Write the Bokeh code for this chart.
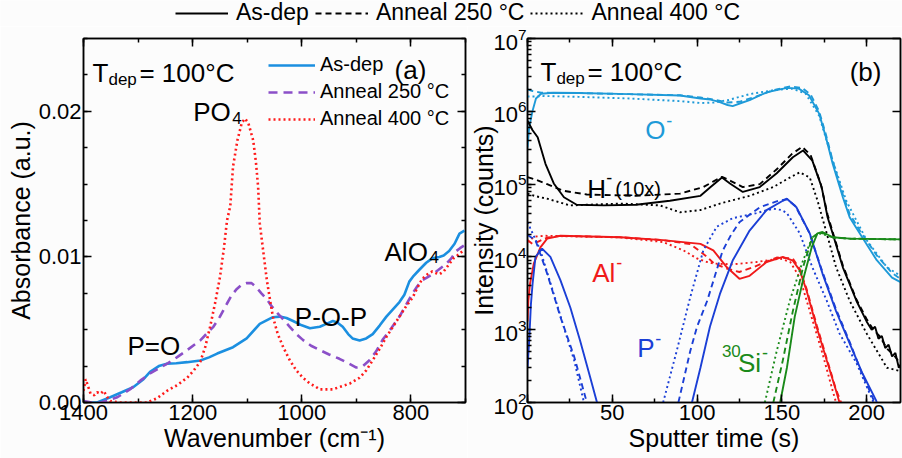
from bokeh.plotting import figure
from bokeh.models import (Range1d, Legend, LegendItem, Label, LinearAxis, LogAxis,
                          SingleIntervalTicker, LogTicker, PrintfTickFormatter, CustomJSTickFormatter)
from bokeh.layouts import column, row
from bokeh.embed import file_html
from bokeh.resources import INLINE

FONT = "Liberation Sans"
BG = "#fcfcfc"
NAN = float("nan")

# ---------------- Panel (a): FTIR ----------------
wn_asdep = [1385, 1375, 1351, 1330, 1309, 1290, 1278, 1262, 1247, 1230, 1210, 1186, 1170, 1155, 1126,
            1101, 1077, 1053, 1040, 1028, 1016, 1000, 985, 967, 955, 943, 935, 925, 915, 907, 894, 882,
            870, 857, 845, 833, 821, 812, 803, 795, 785, 772, 761, 748, 740, 730, 720, 711, 702]
abs_asdep = [0.0, 0.0, 0.00036, 0.0007, 0.00105, 0.0016, 0.0021, 0.0025, 0.00266, 0.0027, 0.00277,
             0.00289, 0.0031, 0.00336, 0.0038, 0.0044, 0.0054, 0.00586, 0.0059, 0.0058, 0.0056, 0.0053,
             0.0051, 0.0052, 0.0054, 0.0056, 0.0055, 0.0052, 0.0047, 0.0044, 0.00426, 0.0044, 0.0047,
             0.0053, 0.0059, 0.0064, 0.0069, 0.0074, 0.0083, 0.0087, 0.0091, 0.0096, 0.0099, 0.0100,
             0.0101, 0.0104, 0.0109, 0.0116, 0.0118]

wn_250 = [1400, 1385, 1368, 1338, 1315, 1296, 1278, 1259, 1245, 1229, 1210, 1186, 1175, 1162, 1150, 1137,
          1128, 1119, 1110, 1101, 1092, 1083, 1074, 1064, 1055, 1046, 1034, 1022, 1010, 998, 983, 967,
          950, 931, 915, 900, 888, 876, 864, 852, 836, 821, 809, 797, 788, 779, 770, 761, 750, 736, 726,
          717, 710, 702]
abs_250 = [0.0001, 0.0, 0.0, 0.00036, 0.0009, 0.0015, 0.0020, 0.0024, 0.0027, 0.0031, 0.0036, 0.00426,
           0.0047, 0.0052, 0.0059, 0.0068, 0.0074, 0.0078, 0.0081, 0.0082, 0.0082, 0.0079, 0.0075,
           0.0071, 0.0066, 0.0062, 0.0057, 0.0052, 0.0047, 0.0043, 0.0039, 0.0036, 0.0033, 0.0030,
           0.0027, 0.0024, 0.0025, 0.0029, 0.0035, 0.0043, 0.0051, 0.0059, 0.0067, 0.0075, 0.0080,
           0.0084, 0.0086, 0.0088, 0.0091, 0.0095, 0.0099, 0.0104, 0.0106, 0.0108]

wn_400 = [1400, 1396, 1387, 1380, 1375, 1369, 1363, 1357, 1351, 1335, 1320, 1300, 1283, 1265, 1247, 1228,
          1210, 1198, 1186, 1177, 1168, 1159, 1150, 1143, 1137, 1131, 1126, 1118, 1110, 1104, 1098, 1089,
          1084, 1080, 1077, 1070, 1064, 1058, 1053, 1044, 1034, 1022, 1010, 998, 985, 975, 967, 955, 943,
          928, 912, 903, 894, 882, 870, 857, 845, 833, 821, 809, 797, 788, 779, 770, 761, 755, 748, 740,
          730, 722, 715, 702]
abs_400 = [0.0008, 0.0016, 0.0006, 0.0005, 0.0007, 0.0006, 0.0008, 0.0004, 0.0001, 0.0, 0.0, 0.0, 0.0,
           0.0003, 0.0008, 0.0012, 0.0017, 0.0022, 0.0028, 0.0038, 0.0052, 0.0068, 0.0086, 0.0105,
           0.0125, 0.0135, 0.0162, 0.0180, 0.0192, 0.0195, 0.0192, 0.0180, 0.0165, 0.0148, 0.0123,
           0.0102, 0.0084, 0.0070, 0.0059, 0.0047, 0.0038, 0.0029, 0.0022, 0.0017, 0.0013, 0.0011,
           0.0009, 0.0009, 0.0009, 0.0011, 0.0013, 0.0015, 0.0017, 0.0022, 0.0029, 0.0037, 0.0045,
           0.0052, 0.0059, 0.0066, 0.0072, 0.0079, 0.0085, 0.0088, 0.0090, 0.0089, 0.0088, 0.0090,
           0.0095, 0.0099, 0.0101, 0.0105]

# ---------------- Panel (b): SIMS ----------------
O_as_t = [0, 1, 3, 5, 8, 15, 30, 60, 90, 102, 108, 113, 118, 121, 126, 131, 141, 153, 160, 166, 172, 176,
          180, 186, 190, 196, 206, 215, 220]
O_as_I = [3.2e5, 6e5, 1.02e6, 1.5e6, 1.74e6, 1.8e6, 1.78e6, 1.72e6, 1.65e6, 1.5e6, 1.45e6, 1.35e6,
          1.22e6, 1.18e6, 1.3e6, 1.42e6, 1.82e6, 2.1e6, 2.05e6, 1.66e6, 9.3e5, 4.4e5, 1.9e5, 6.6e4,
          3.5e4, 2.1e4, 9e3, 5.2e3, 4.5e3]
O_250_t = [0, 3, 8, 30, 60, 90, 102, 110, 118, 125, 135, 145, 155, 162, 167, 172, 176, 180, 186, 190, 196,
           206, 215, 220]
O_250_I = [2.0e6, 1.9e6, 1.8e6, 1.78e6, 1.72e6, 1.66e6, 1.55e6, 1.45e6, 1.32e6, 1.35e6, 1.6e6, 1.95e6,
           2.2e6, 2.1e6, 1.7e6, 1.0e6, 4.8e5, 2.1e5, 7.2e4, 3.9e4, 2.3e4, 1.05e4, 6e3, 5e3]
O_400_t = [0, 5, 10, 30, 60, 90, 102, 110, 118, 131, 145, 156, 164, 172, 180, 188, 200, 212, 220]
O_400_I = [1.6e6, 1.6e6, 1.62e6, 1.58e6, 1.5e6, 1.38e6, 1.3e6, 1.32e6, 1.42e6, 1.72e6, 1.95e6, 2.05e6,
           1.75e6, 8.7e5, 2.1e5, 5.9e4, 1.7e4, 7.2e3, 5.5e3]

H_as_t = [0, 3, 6, 10.6, 15.5, 21.5, 29, 45, 64, 84, 102, 108, 114.7, 119.4, 127, 137, 147, 156.5, 162.5,
          168, 173.5, 177, 180, 186, 194, 200, 203, 205, 207, 209, 211, 213, 215, 217, 219, 220]
H_as_I = [7.4e5, 5.5e5, 4.4e5, 1.9e5, 1.02e5, 6.6e4, 5.2e4, 5.1e4, 5.2e4, 5.9e4, 6.9e4, 9.1e4, 1.23e5,
          1.02e5, 7.8e4, 9.1e4, 1.41e5, 2.34e5, 2.9e5, 2.1e5, 9.1e4, 3.5e4, 2.1e4, 7.2e3, 2.5e3, 1.3e3,
          1.0e3, 1.1e3, 750, 820, 560, 620, 430, 480, 300, 330]
H_250_t = [0, 5, 11.6, 21, 35, 64, 90, 103.7, 110, 114.7, 120, 127, 137, 147, 156, 162, 167, 173, 177, 180,
           186, 194, 200, 204, 208, 212, 216, 220]
H_250_I = [1.25e5, 1.15e5, 1.0e5, 8.1e4, 7.2e4, 6.9e4, 7.4e4, 9.1e4, 1.1e5, 1.26e5, 1.1e5, 9.1e4, 1.0e5,
           1.6e5, 2.6e5, 3.25e5, 2.5e5, 1.0e5, 3.8e4, 2.2e4, 7.6e3, 2.6e3, 1.4e3, 1.0e3, 800, 550, 450, 340]
H_400_t = [0, 5, 11.6, 25, 55, 78, 90, 102, 113.5, 131, 145, 154.7, 160.6, 166.5, 171, 176.5, 182, 190,
           200, 212, 220]
H_400_I = [7.4e4, 6.8e4, 6.3e4, 5.1e4, 5.4e4, 5.1e4, 4.1e4, 4.4e4, 5.4e4, 6.9e4, 9.1e4, 1.23e5, 1.45e5,
           1.23e5, 6.0e4, 2.1e4, 7.2e3, 2.5e3, 890, 300, 270]

Al_as_t = [0, 0.5, 1.5, 3.7, 7.6, 11.6, 19.4, 55, 80, 102, 109.6, 117.6, 125, 131, 141, 150.6, 156.5,
           160.6, 164.5, 170.6, 176.5, 182, 184]
Al_as_I = [1.3e3, 2.5e3, 4.3e3, 8.1e3, 1.35e4, 1.78e4, 1.95e4, 1.86e4, 1.7e4, 1.51e4, 1.23e4, 7.2e3,
           5.0e3, 5.5e3, 8.5e3, 1.0e4, 8.9e3, 6.5e3, 3.5e3, 1.07e3, 380, 145, 100]
Al_250_t = [0, 3, 7, 12, 20, 55, 80, 96, 106, 110, 117.6, 125, 133, 147, 156.5, 160.6, 164.5, 170.6,
            176.5, 182, 185]
Al_250_I = [1.7e4, 1.5e4, 1.65e4, 1.85e4, 1.95e4, 1.86e4, 1.7e4, 1.5e4, 1.0e4, 8.1e3, 6.9e3, 6.2e3,
            7.2e3, 9.8e3, 9.5e3, 6.8e3, 3.7e3, 1.15e3, 400, 150, 100]
Al_400_t = [0, 4, 10, 55, 80, 92, 100, 106, 110, 121, 135, 149, 155, 160.6, 166.5, 174, 180, 182]
Al_400_I = [1.6e4, 1.9e4, 1.95e4, 1.85e4, 1.6e4, 1.23e4, 9.5e3, 8.5e3, 8.1e3, 7.9e3, 8.5e3, 9.5e3, 8.5e3,
            5.2e3, 1.8e3, 470, 145, 100]

P_as_t1 = [0, 1, 2, 3, 4.7, 8.6, 13.5, 19.4, 25.3, 31, 37, 41]
P_as_I1 = [300, 700, 2.2e3, 4.3e3, 1.0e4, 1.3e4, 1.0e4, 4.8e3, 2.0e3, 710, 220, 100]
P_as_t2 = [97, 102, 107.6, 113.5, 121, 131, 141, 150.6, 153, 158.6, 166.5, 174, 182, 190, 197.6, 205.6, 206]
P_as_I2 = [100, 300, 1.1e3, 3.1e3, 8.9e3, 2.3e4, 4.4e4, 5.9e4, 6.3e4, 4.8e4, 2.1e4, 5.9e3, 1.8e3, 650,
           250, 107, 100]
P_250_t1 = [0, 4.7, 11.6, 19.4, 27.5, 35]
P_250_I1 = [2.0e4, 1.7e4, 5.9e3, 1.5e3, 430, 100]
P_250_t2 = [89, 96, 100, 106, 110, 115, 120, 125, 137, 148, 153, 158, 166, 174, 182, 190, 197, 204, 205]
P_250_I2 = [100, 510, 1.1e3, 2.5e3, 5e3, 1.2e4, 2.0e4, 3.0e4, 4.8e4, 5.9e4, 6.2e4, 5.0e4, 2.2e4, 6.2e3,
            1.9e3, 680, 260, 110, 100]
P_400_t1 = [0, 7.6, 15.5, 21.5, 27.5, 33, 34]
P_400_I1 = [3.0e4, 1.23e4, 3.1e3, 1.07e3, 380, 107, 100]
P_400_t2 = [80, 88, 96, 103.7, 111.6, 121, 135, 145, 150, 153, 160.6, 168, 176.5, 184, 194, 203.6, 204]
P_400_I2 = [100, 510, 2.8e3, 1.23e4, 2.6e4, 3.4e4, 4.0e4, 4.6e4, 4.4e4, 4.0e4, 2.1e4, 7.2e3, 2.5e3, 890,
            350, 107, 100]

Si_as_t = [149, 153, 157.6, 162.5, 167.6, 171, 174, 180, 190, 220]
Si_as_I = [100, 300, 1.5e3, 4.8e3, 1.35e4, 2.1e4, 2.2e4, 1.86e4, 1.78e4, 1.74e4]
Si_250_t = [145, 150.6, 156.5, 162.5, 168, 172, 175, 180, 190, 220]
Si_250_I = [100, 380, 1.8e3, 7.2e3, 1.86e4, 2.15e4, 2.1e4, 1.85e4, 1.78e4, 1.74e4]
Si_400_t = [140, 147, 154.7, 162.5, 168, 172, 176, 180, 190, 220]
Si_400_I = [100, 510, 2.5e3, 8.9e3, 1.86e4, 2.1e4, 2.0e4, 1.85e4, 1.78e4, 1.74e4]

legend_labels = ["As-dep", "Anneal 250 \u00b0C", "Anneal 400 \u00b0C"]

# ---------------- styling helpers ----------------
C_A_BLUE, C_A_PURPLE, C_A_RED = "#1b8fe0", "#8b4fc8", "#ff1a1a"
C_O, C_H, C_AL, C_P, C_SI = "#1e9ad8", "#000000", "#f01a1a", "#1b3fd6", "#1a8a1a"
DASH_A, DOT_A = "9 6", "2 3"
DASH_B, DOT_B = "6 4", "2 3"


def style_axis(ax, minor=True):
    ax.major_tick_in = 8
    ax.major_tick_out = 0
    ax.minor_tick_in = 4 if minor else 0
    ax.minor_tick_out = 0
    ax.major_tick_line_width = 1.5
    ax.minor_tick_line_width = 1.5
    ax.axis_line_width = 1.5
    ax.major_label_text_font = FONT
    ax.major_label_text_font_size = "22px"
    ax.major_label_text_color = "black"
    ax.axis_label_text_font = FONT
    ax.axis_label_text_font_size = "25px"
    ax.axis_label_text_font_style = "normal"
    ax.axis_label_text_color = "black"
    ax.major_label_standoff = 2
    ax.axis_label_standoff = 1


def mirror(p, ticker, loc, log=False, minor=True):
    Ax = LogAxis if log else LinearAxis
    ax = Ax(ticker=ticker, formatter=CustomJSTickFormatter(code="return ''"))
    style_axis(ax, minor)
    ax.major_label_standoff = 0
    ax.axis_label_standoff = 0
    p.add_layout(ax, loc)


def txt(p, x, y, s, size=26, color="black", dx=0, dy=0):
    p.add_layout(Label(x=x, y=y, text=s, x_offset=dx, y_offset=dy, text_font=FONT,
                       text_font_size=f"{size}px", text_color=color,
                       text_baseline="alphabetic", text_align="left"))


TOP_H = 26
PANEL_H = 458 - TOP_H

# ---------------- top legend ----------------
fl = figure(width=902, height=TOP_H, x_range=Range1d(0, 1), y_range=Range1d(0, 1),
            output_backend="svg", toolbar_location=None, x_axis_location=None, y_axis_location=None,
            min_border=0, outline_line_color=None, background_fill_color=BG, border_fill_color=BG)
for g in list(fl.center):
    g.visible = False
lr = [fl.line(x=[NAN], y=[NAN], line_color="black", line_width=2, line_dash=d)
      for d in ["solid", DASH_B, DOT_B]]
top_leg = Legend(items=[LegendItem(label=l, renderers=[r]) for l, r in zip(legend_labels, lr)],
                 orientation="horizontal", location=(175, 0), glyph_width=53, glyph_height=20,
                 label_standoff=8, spacing=6, padding=0, margin=0, label_text_font=FONT,
                 label_text_font_size="23px", label_text_color="black",
                 border_line_color=None, background_fill_alpha=0)
fl.add_layout(top_leg)

# ---------------- panel a ----------------
pa = figure(width=467, height=PANEL_H, x_range=Range1d(1400, 700), y_range=Range1d(0, 0.025),
            output_backend="svg", toolbar_location=None, min_border_left=83, min_border_right=2,
            min_border_top=38 - TOP_H, min_border_bottom=56, background_fill_color=BG,
            border_fill_color=BG, outline_line_color="black", outline_line_width=1.5)
pa.grid.visible = False
xt_a = SingleIntervalTicker(interval=200, num_minor_ticks=2)
yt_a = SingleIntervalTicker(interval=0.01, num_minor_ticks=4)
pa.xaxis.ticker = xt_a
pa.yaxis.ticker = yt_a
pa.yaxis.formatter = PrintfTickFormatter(format="%.2f")
pa.xaxis.axis_label = "Wavenumber (cm\u207b\u00b9)"
pa.yaxis.axis_label = "Absorbance (a.u.)"
style_axis(pa.xaxis[0])
style_axis(pa.yaxis[0])
mirror(pa, xt_a, "above")
mirror(pa, yt_a, "right")

ra1 = pa.line(wn_asdep, abs_asdep, line_color=C_A_BLUE, line_width=2.6)
ra2 = pa.line(wn_250, abs_250, line_color=C_A_PURPLE, line_width=2.6, line_dash=DASH_A)
ra3 = pa.line(wn_400, abs_400, line_color=C_A_RED, line_width=2.6, line_dash=DOT_A)
leg_a = Legend(items=[LegendItem(label=l, renderers=[r]) for l, r in zip(legend_labels, [ra1, ra2, ra3])],
               location=(185, 272), glyph_width=47, glyph_height=20, label_height=20,
               label_standoff=5, spacing=4, padding=0, margin=0, label_text_font=FONT,
               label_text_font_size="20px", label_text_color="black",
               border_line_color=None, background_fill_alpha=0)
pa.add_layout(leg_a)

txt(pa, 1383.6, 0.02261, "T")
txt(pa, 1383.6, 0.02261, "dep", 17, dx=16, dy=-6)
txt(pa, 1383.6, 0.02261, "= 100\u00b0C", dx=47)
txt(pa, 830, 0.02282, "(a)")
txt(pa, 1199, 0.01993, "PO")
txt(pa, 1199, 0.01993, "4", 17, dx=39, dy=-6)
txt(pa, 1319.6, 0.00385, "P=O")
txt(pa, 1012.8, 0.00584, "P-O-P")
txt(pa, 848.4, 0.01031, "AlO")
txt(pa, 848.4, 0.01031, "4", 17, dx=45, dy=-5)

# ---------------- panel b ----------------
pb = figure(width=435, height=PANEL_H, x_range=Range1d(0, 220), y_range=Range1d(1e2, 1e7),
            y_axis_type="log", output_backend="svg", toolbar_location=None,
            min_border_left=60, min_border_right=2, min_border_top=38 - TOP_H, min_border_bottom=56,
            background_fill_color=BG, border_fill_color=BG,
            outline_line_color="black", outline_line_width=1.5)
pb.grid.visible = False
xt_b = SingleIntervalTicker(interval=50, num_minor_ticks=2)
yt_b = LogTicker(mantissas=[1], num_minor_ticks=10)
pb.xaxis.ticker = xt_b
pb.yaxis.ticker = yt_b
pb.xaxis.axis_label = "Sputter time (s)"
pb.yaxis.axis_label = "Intensity (counts)"
style_axis(pb.xaxis[0])
style_axis(pb.yaxis[0])
pb.yaxis[0].major_label_standoff = 1
pb.yaxis[0].axis_label_standoff = -8
mirror(pb, xt_b, "above")
mirror(pb, yt_b, "right", log=True, minor=False)

LW = 1.9
styles = [dict(line_dash="solid"), dict(line_dash=DASH_B), dict(line_dash=DOT_B)]
series = [
    (C_O, [(O_as_t, O_as_I)], [(O_250_t, O_250_I)], [(O_400_t, O_400_I)]),
    (C_H, [(H_as_t, H_as_I)], [(H_250_t, H_250_I)], [(H_400_t, H_400_I)]),
    (C_AL, [(Al_as_t, Al_as_I)], [(Al_250_t, Al_250_I)], [(Al_400_t, Al_400_I)]),
    (C_P, [(P_as_t1, P_as_I1), (P_as_t2, P_as_I2)], [(P_250_t1, P_250_I1), (P_250_t2, P_250_I2)],
     [(P_400_t1, P_400_I1), (P_400_t2, P_400_I2)]),
    (C_SI, [(Si_as_t, Si_as_I)], [(Si_250_t, Si_250_I)], [(Si_400_t, Si_400_I)]),
]
for color, *conds in series:
    for st, segs in zip(styles, conds):
        for t, I in segs:
            pb.line(t, I, line_color=color, line_width=LW, **st)

txt(pb, 7.6, 3.44e6, "T")
txt(pb, 7.6, 3.44e6, "dep", 17, dx=16, dy=-6)
txt(pb, 7.6, 3.44e6, "= 100\u00b0C", dx=47)
txt(pb, 190, 3.52e6, "(b)")
txt(pb, 69.4, 5.45e5, "O", color=C_O)
txt(pb, 69.4, 5.45e5, "-", 18, color=C_O, dx=21, dy=10)
txt(pb, 35.3, 8.7e4, "H")
txt(pb, 35.3, 8.7e4, "-", 18, dx=19, dy=11)
txt(pb, 35.3, 8.7e4, "(10x)", 20, dx=28)
txt(pb, 38.2, 6.1e3, "Al", color=C_AL)
txt(pb, 38.2, 6.1e3, "-", 18, color=C_AL, dx=24, dy=10)
txt(pb, 64.7, 552, "P", color=C_P)
txt(pb, 64.7, 552, "-", 18, color=C_P, dx=18, dy=10)
txt(pb, 124.1, 354, "30", 17, color=C_SI, dx=-16, dy=12)
txt(pb, 124.1, 354, "Si", color=C_SI)
txt(pb, 124.1, 354, "-", 18, color=C_SI, dx=24, dy=10)

layout = column(fl, row(pa, pb))
open("out.html", "w").write(file_html(layout, INLINE))
